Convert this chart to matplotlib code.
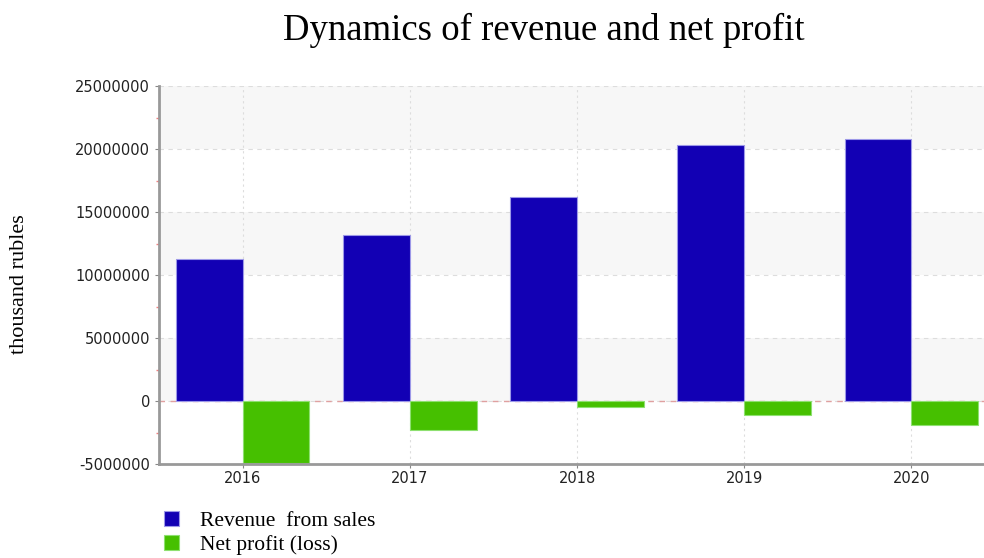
import matplotlib
matplotlib.use("Agg")
import matplotlib.pyplot as plt
import numpy as np

years = ["2016", "2017", "2018", "2019", "2020"]
revenue = [11270000, 13170000, 16190000, 20300000, 20800000]
net_profit = [-4900000, -2300000, -450000, -1100000, -1900000]
series_names = ["Revenue  from sales", "Net profit (loss)"]
yticks = [-5000000, 0, 5000000, 10000000, 15000000, 20000000, 25000000]

fig = plt.figure(figsize=(9.84, 5.58), dpi=100)
ax = fig.add_axes([159/984, (558-464)/558, (995-159)/984, (464-86)/558])

x = np.arange(len(years))
w = 0.4
ax.set_xlim(-0.5, len(years) - 0.5)
ax.set_ylim(-5000000, 25000000)

# alternating bands
for i, lo in enumerate(range(-5000000, 25000000, 5000000)):
    if i % 2 == 1:
        ax.axhspan(lo, lo + 5000000, color="#f7f7f7", zorder=0, lw=0)

for yv in yticks[1:]:
    ax.axhline(yv, color="#dddddd", lw=0.8, ls=(0, (4, 4)), zorder=0.5)
for xv in x:
    ax.axvline(xv, color="#dddddd", lw=0.8, ls=(0, (2, 3)), zorder=0.5)
ax.axhline(0, color="#e0a0a0", lw=1.0, ls=(0, (4, 4)), zorder=0.6)

ax.bar(x - w/2, revenue, width=w, color="#1200b4", edgecolor="#9c98e8", lw=0.8, zorder=2, label=series_names[0])
ax.bar(x + w/2, net_profit, width=w, color="#46c000", edgecolor="#8ee070", lw=0.8, zorder=2, label=series_names[1])

ax.set_xticks(x)
ax.set_xticklabels(years)
ax.set_yticks(yticks)
ax.set_yticklabels([str(v) for v in yticks])
ax.set_yticks(np.arange(-2500000, 25000000, 5000000), minor=True)
ax.tick_params(axis="y", which="minor", length=2, color="#f08080", width=1)
ax.tick_params(axis="both", which="major", length=3, color="#888888", labelsize=10.5, labelcolor="#222222")
ax.tick_params(axis="x", pad=2)

for s in ["top", "right"]:
    ax.spines[s].set_visible(False)
ax.spines["left"].set_color("#999999")
ax.spines["left"].set_linewidth(2)
ax.spines["bottom"].set_color("#999999")
ax.spines["bottom"].set_linewidth(2)

fig.text(544/984, 1 - 30/558, "Dynamics of revenue and net profit", ha="center", va="center",
         family="Liberation Serif", fontsize=26.5)
fig.text(20/984, 1 - 284/558, "thousand rubles", rotation=90, ha="center", va="center",
         family="Liberation Serif", fontsize=16)

handles, labels = ax.get_legend_handles_labels()
fig.legend(handles, labels, loc="upper left", bbox_to_anchor=(164/984, 1 - 511/558), frameon=False,
           prop={"family": "Liberation Serif", "size": 15.5}, handlelength=0.7, handleheight=0.7,
           labelspacing=0.2, handletextpad=0.95, borderaxespad=0, borderpad=0)

fig.savefig("out.png", dpi=100)
